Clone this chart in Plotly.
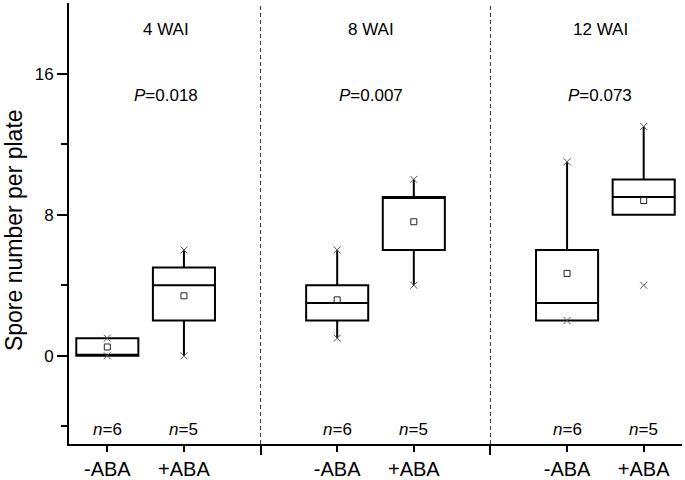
import plotly.graph_objects as go

# ---- data ----
stages = ["4 WAI", "8 WAI", "12 WAI"]
p_values = ["0.018", "0.007", "0.073"]
treatments = ["-ABA", "+ABA", "-ABA", "+ABA", "-ABA", "+ABA"]
positions = [1, 2, 4, 5, 7, 8]
separators = [3, 6]
q1 = [0, 2, 2, 6, 2, 8]
median = [0, 4, 3, 9, 3, 9]
q3 = [1, 5, 4, 9, 6, 10]
lower_whisker = [0, 0, 1, 4, 2, 8]
upper_whisker = [1, 6, 6, 10, 11, 13]
means = [0.5, 3.4, 3.17, 7.6, 4.67, 8.8]
min_vals = [0, 0, 1, 4, 2, 4]
max_vals = [1, 6, 6, 10, 11, 13]
n_vals = [6, 5, 6, 5, 6, 5]
stage_label_x = [1.77, 4.44, 7.43]

FONT = "Arial, Liberation Sans, sans-serif"

fig = go.Figure()

fig.add_trace(go.Box(
    x=positions, q1=q1, median=median, q3=q3,
    lowerfence=lower_whisker, upperfence=upper_whisker,
    width=0.81, whiskerwidth=0,
    line=dict(color="black", width=2),
    fillcolor="rgba(255,255,255,0)",
    boxpoints=False, showlegend=False, hoverinfo="skip",
))

# min / max markers
fig.add_trace(go.Scatter(
    x=positions + positions, y=min_vals + max_vals, mode="markers",
    marker=dict(symbol="x-thin-open", size=7, color="#555",
                line=dict(color="#555", width=1)),
    showlegend=False, hoverinfo="skip",
))

# mean markers
fig.add_trace(go.Scatter(
    x=positions, y=means, mode="markers",
    marker=dict(symbol="square-open", size=6, color="#222",
                line=dict(color="#222", width=1)),
    showlegend=False, hoverinfo="skip",
))

for s in separators:
    fig.add_shape(type="line", xref="x", yref="paper", x0=s, x1=s, y0=0, y1=1,
                  line=dict(color="#333", width=1, dash="4px,3px"))

for lab, p, xs in zip(stages, p_values, stage_label_x):
    fig.add_annotation(x=xs, y=18.5, text=lab, showarrow=False,
                       font=dict(size=17, color="black", family=FONT))
    fig.add_annotation(x=xs, y=14.75, text="<i>P</i>=" + p, showarrow=False,
                       font=dict(size=17, color="black", family=FONT))

for xp, n in zip(positions, n_vals):
    fig.add_annotation(x=xp, y=-4.15, text="<i>n</i>=%d" % n, showarrow=False,
                       font=dict(size=17, color="black", family=FONT))

# y-axis title
fig.add_annotation(xref="paper", yref="paper", x=-0.0905, y=0.484,
                   text="Spore number per plate", textangle=-90, showarrow=False,
                   xanchor="center", yanchor="middle",
                   font=dict(size=23, color="black", family=FONT))

fig.update_layout(
    width=685, height=480,
    margin=dict(l=69, r=3, t=3, b=36, autoexpand=False),
    plot_bgcolor="white", paper_bgcolor="white",
    font=dict(family=FONT, color="black"),
    xaxis=dict(
        range=[0.5, 8.5], showgrid=False, zeroline=False,
        showline=True, linecolor="black", linewidth=2,
        tickmode="array", tickvals=positions, ticktext=treatments,
        ticks="outside", ticklen=6, tickwidth=2, tickcolor="black",
        tickfont=dict(size=20, family=FONT, color="black"),
        minor=dict(tickmode="array", tickvals=separators, ticks="outside",
                   ticklen=9, tickwidth=2, tickcolor="black", showgrid=False),
        automargin=False,
    ),
    yaxis=dict(
        range=[-5, 20], showgrid=False, zeroline=False,
        showline=True, linecolor="black", linewidth=2,
        tickmode="array", tickvals=[0, 8, 16], ticktext=["0", "8", "16"],
        ticks="outside", ticklen=10, tickwidth=2, tickcolor="black",
        tickfont=dict(size=17, family=FONT, color="black"),
        minor=dict(tickmode="array", tickvals=[-4, 4, 12], ticks="outside",
                   ticklen=6, tickwidth=2, tickcolor="black", showgrid=False),
        automargin=False,
    ),
)

fig.write_html("out.html",
               config={"displayModeBar": False},
               post_script="document.body.style.margin='0';document.body.style.padding='0';")
